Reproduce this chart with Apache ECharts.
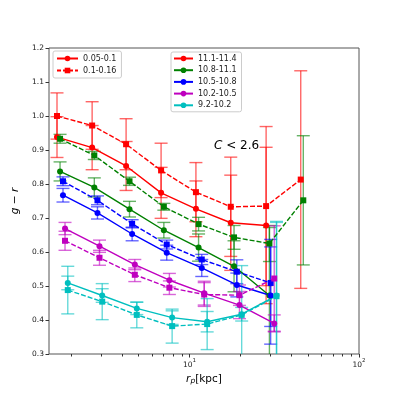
<!DOCTYPE html>
<html>
<head>
<meta charset="utf-8">
<script src="https://cdn.jsdelivr.net/npm/echarts@6/dist/echarts.min.js"></script>
<style>
  html, body { margin: 0; padding: 0; background: #fff; }
  #chart { width: 399px; height: 399px; }
</style>
</head>
<body>
<div id="chart"></div>
<script>
// r_p positions (kpc) per colour, solid = 0.05-0.1 (circles), dashed = 0.1-0.16 (squares)
var redX = [1.65, 2.66, 4.22, 6.79, 10.9, 17.5, 28.3, 45.3];
var redSolidY = [0.938, 0.907, 0.853, 0.774, 0.727, 0.686, 0.678];
var redSolidErr = [0.06, 0.065, 0.072, 0.075, 0.082, 0.14, 0.23];
var redDashY = [1.0, 0.972, 0.917, 0.840, 0.776, 0.733, 0.735, 0.813];
var redDashErr = [0.068, 0.07, 0.075, 0.08, 0.087, 0.146, 0.234, 0.32];

var greenX = [1.72, 2.74, 4.42, 7.05, 11.3, 18.3, 29.6, 46.9];
var greenSolidY = [0.837, 0.790, 0.726, 0.664, 0.613, 0.558, 0.472];
var greenSolidErr = [0.028, 0.028, 0.023, 0.023, 0.04, 0.075, 0.2];
var greenDashY = [0.933, 0.884, 0.808, 0.733, 0.682, 0.643, 0.625, 0.752];
var greenDashErr = [0.013, 0.012, 0.012, 0.01, 0.02, 0.035, 0.053, 0.19];

var blueX = [1.79, 2.86, 4.58, 7.33, 11.8, 19.0, 30.1];
var blueSolidY = [0.767, 0.715, 0.653, 0.598, 0.553, 0.503, 0.472];
var blueSolidErr = [0.02, 0.018, 0.02, 0.022, 0.025, 0.035, 0.143];
var blueDashY = [0.808, 0.752, 0.683, 0.622, 0.578, 0.542, 0.509];
var blueDashErr = [0.013, 0.013, 0.012, 0.013, 0.015, 0.035, 0.128];

var magX = [1.84, 2.94, 4.75, 7.6, 12.2, 19.7, 31.6];
var magSolidY = [0.669, 0.617, 0.563, 0.517, 0.479, 0.444, 0.390];
var magSolidErr = [0.018, 0.018, 0.015, 0.02, 0.035, 0.04, 0.025];
var magDashY = [0.633, 0.583, 0.533, 0.495, 0.475, 0.473, 0.522];
var magDashErr = [0.028, 0.022, 0.02, 0.02, 0.035, 0.03, 0.155];

var cyanX = [1.91, 3.05, 4.88, 7.89, 12.7, 20.3, 32.6];
var cyanSolidY = [0.509, 0.472, 0.434, 0.407, 0.395, 0.417, 0.472];
var cyanSolidErr = [0.02, 0.02, 0.018, 0.02, 0.03, 0.02, 0.215];
var cyanDashY = [0.488, 0.454, 0.415, 0.382, 0.388, 0.415, 0.47];
var cyanDashErr = [0.07, 0.053, 0.038, 0.05, 0.075, 0.145, 0.22];

var zBins = ['0.05-0.1', '0.1-0.16'];
var massBins = ['11.1-11.4', '10.8-11.1', '10.5-10.8', '10.2-10.5', '9.2-10.2'];
var massColors = ['#ff0000', '#008000', '#0000ff', '#bf00bf', '#00bfbf'];

var xMajor = [10, 100];
var xMinor = [2, 3, 4, 5, 6, 7, 8, 9, 20, 30, 40, 50, 60, 70, 80, 90];

var font = 'DejaVu Sans';

function lineSeries(xs, ys, color, dashed) {
  return {
    type: 'line',
    name: color + (dashed ? 'd' : 's'),
    data: ys.map(function (y, i) { return [xs[i], y]; }),
    symbol: dashed ? 'rect' : 'circle',
    symbolSize: 6,
    itemStyle: { color: color },
    lineStyle: { color: color, width: 1.4, type: dashed ? [5, 2] : 'solid' },
    z: 3
  };
}

function errSeries(xs, ys, es, color) {
  return {
    type: 'custom',
    silent: true,
    clip: true,
    z: 2,
    data: ys.map(function (y, i) { return [xs[i], y - es[i], y + es[i]]; }),
    encode: { x: 0, y: [1, 2] },
    renderItem: function (params, api) {
      var lo = api.coord([api.value(0), api.value(1)]);
      var hi = api.coord([api.value(0), api.value(2)]);
      var w = 6.5;
      var st = { stroke: color, lineWidth: 1.4, opacity: 0.6 };
      return {
        type: 'group',
        children: [
          { type: 'line', shape: { x1: lo[0], y1: lo[1], x2: hi[0], y2: hi[1] }, style: st },
          { type: 'line', shape: { x1: lo[0] - w, y1: lo[1], x2: lo[0] + w, y2: lo[1] }, style: st },
          { type: 'line', shape: { x1: hi[0] - w, y1: hi[1], x2: hi[0] + w, y2: hi[1] }, style: st }
        ]
      };
    }
  };
}

function legendDummy(name, color, dashed) {
  return {
    type: 'line', name: name, data: [],
    symbol: dashed ? 'rect' : 'circle',
    itemStyle: { color: color },
    lineStyle: { color: color, width: 1.4, type: dashed ? [4, 2] : 'solid' }
  };
}

var groups = [
  [redX, redSolidY, redSolidErr, redDashY, redDashErr, massColors[0]],
  [greenX, greenSolidY, greenSolidErr, greenDashY, greenDashErr, massColors[1]],
  [blueX, blueSolidY, blueSolidErr, blueDashY, blueDashErr, massColors[2]],
  [magX, magSolidY, magSolidErr, magDashY, magDashErr, massColors[3]],
  [cyanX, cyanSolidY, cyanSolidErr, cyanDashY, cyanDashErr, massColors[4]]
];

var series = [];
groups.forEach(function (g) {
  series.push(errSeries(g[0], g[1], g[2], g[5]));
  series.push(errSeries(g[0], g[3], g[4], g[5]));
});
groups.forEach(function (g) {
  series.push(lineSeries(g[0], g[1], g[5], false));
  series.push(lineSeries(g[0], g[3], g[5], true));
});
series.push(legendDummy(zBins[0], massColors[0], false));
series.push(legendDummy(zBins[1], massColors[0], true));
massBins.forEach(function (m, i) {
  series.push(legendDummy(m, massColors[i], false));
});

var chart = echarts.init(document.getElementById('chart'));
chart.setOption({
  animation: false,
  grid: { left: 49, top: 48, right: 40, bottom: 45, show: true, borderColor: '#555', borderWidth: 1 },
  legend: [
    {
      data: zBins, orient: 'vertical', left: 53, top: 51,
      padding: [3, 5, 3, 3], itemGap: 3, itemWidth: 21, itemHeight: 7,
      backgroundColor: 'rgba(255,255,255,0.8)', borderColor: '#ccc', borderWidth: 1, borderRadius: 2,
      textStyle: { fontFamily: font, fontSize: 8, color: '#222', lineHeight: 9 },
      selectedMode: false
    },
    {
      data: massBins, orient: 'vertical', left: 171, top: 52,
      padding: [2, 5, 2, 2], itemGap: 2.7, itemWidth: 19, itemHeight: 7,
      backgroundColor: 'rgba(255,255,255,0.8)', borderColor: '#ccc', borderWidth: 1, borderRadius: 2,
      textStyle: { fontFamily: font, fontSize: 8, color: '#222', lineHeight: 9 },
      selectedMode: false
    }
  ],
  xAxis: [
    {
      type: 'log', logBase: 10, min: 1.48, max: 100,
      name: '{i|r}{sub|p}{n|[kpc]}', nameLocation: 'middle', nameGap: 15,
      nameTextStyle: {
        rich: {
          i: { fontFamily: font, fontStyle: 'italic', fontSize: 10.5, color: '#000', verticalAlign: 'top' },
          sub: { fontFamily: font, fontStyle: 'italic', fontSize: 7.5, color: '#000', verticalAlign: 'bottom' },
          n: { fontFamily: font, fontSize: 10.5, color: '#000', verticalAlign: 'top' }
        }
      },
      axisLine: { show: false },
      splitLine: { show: false },
      axisTick: { show: true, length: 3.5, lineStyle: { color: '#333' }, customValues: xMajor },
      axisLabel: {
        customValues: xMajor, margin: 4,
        formatter: function (v) { return '{b|10}{s|' + Math.round(Math.log10(v)) + '}'; },
        rich: {
          b: { fontFamily: font, fontSize: 7.5, color: '#222', verticalAlign: 'bottom', lineHeight: 11 },
          s: { fontFamily: font, fontSize: 5.5, color: '#222', verticalAlign: 'top', lineHeight: 11 }
        }
      }
    },
    {
      type: 'log', logBase: 10, min: 1.48, max: 100, position: 'bottom',
      axisLine: { show: false }, splitLine: { show: false },
      axisTick: { show: true, length: 2.5, lineStyle: { color: '#333' }, customValues: xMinor },
      axisLabel: { show: false }
    }
  ],
  yAxis: {
    type: 'value', min: 0.3, max: 1.2, interval: 0.1,
    name: '{i|g} − {i|r}', nameLocation: 'middle', nameGap: 24, nameRotate: 90,
    nameTextStyle: {
      fontFamily: font, fontSize: 10.5, color: '#000',
      rich: { i: { fontFamily: font, fontStyle: 'italic', fontSize: 10.5, color: '#000' } }
    },
    axisLine: { show: false },
    splitLine: { show: false },
    axisTick: { show: true, length: 3.5, lineStyle: { color: '#333' } },
    axisLabel: {
      margin: 5, fontFamily: font, fontSize: 7.5, color: '#222',
      formatter: function (v) { return v.toFixed(1); }
    }
  },
  graphic: [
    {
      type: 'text', left: 214, top: 140, z: 10,
      style: {
        text: '{i|C} < 2.6',
        font: '12px "DejaVu Sans"', fill: '#000',
        rich: { i: { fontFamily: font, fontStyle: 'italic', fontSize: 12, fill: '#000' } }
      }
    }
  ],
  series: series
});
</script>
</body>
</html>
